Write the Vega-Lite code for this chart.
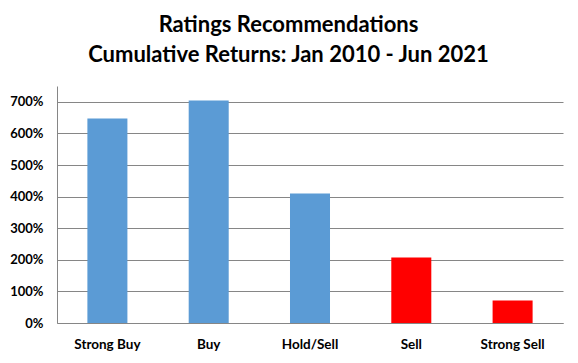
{
  "$schema": "https://vega.github.io/schema/vega-lite/v6.json",
  "width": 506,
  "height": 237,
  "autosize": {"type": "none"},
  "padding": {"left": 57, "top": 86, "right": 15, "bottom": 40},
  "background": "white",
  "title": {
    "text": ["Ratings Recommendations", "Cumulative Returns: Jan 2010 - Jun 2021"],
    "font": "Lato",
    "fontSize": 22,
    "fontWeight": "bold",
    "color": "black",
    "lineHeight": 30,
    "anchor": "middle",
    "dx": -21.5,
    "offset": 19
  },
  "data": {
    "values": [
      {"rating": "Strong Buy", "ret": 6.47, "group": "buy"},
      {"rating": "Buy", "ret": 7.04, "group": "buy"},
      {"rating": "Hold/Sell", "ret": 4.10, "group": "buy"},
      {"rating": "Sell", "ret": 2.07, "group": "sell"},
      {"rating": "Strong Sell", "ret": 0.71, "group": "sell"}
    ]
  },
  "mark": {"type": "bar"},
  "encoding": {
    "x": {
      "field": "rating",
      "type": "nominal",
      "sort": null,
      "scale": {"paddingInner": 0.605, "paddingOuter": 0.3},
      "axis": {
        "title": null,
        "labelAngle": 0,
        "labelFont": "Lato",
        "labelFontSize": 13.5,
        "labelFontWeight": "bold",
        "labelColor": "black",
        "ticks": false,
        "labelPadding": 14,
        "domainColor": "#868686",
        "grid": false
      }
    },
    "y": {
      "field": "ret",
      "type": "quantitative",
      "scale": {"domain": [0, 7.5], "nice": false},
      "axis": {
        "title": null,
        "values": [0, 1, 2, 3, 4, 5, 6, 7],
        "format": ".0%",
        "labelFont": "Lato",
        "labelFontSize": 13,
        "labelFontWeight": "bold",
        "labelColor": "black",
        "ticks": false,
        "labelPadding": 14,
        "domainColor": "#868686",
        "gridColor": "#868686",
        "gridOpacity": 1
      }
    },
    "color": {
      "field": "group",
      "type": "nominal",
      "scale": {"domain": ["buy", "sell"], "range": ["#5B9BD5", "#FF0000"]},
      "legend": null
    }
  },
  "config": {"view": {"stroke": null}}
}
